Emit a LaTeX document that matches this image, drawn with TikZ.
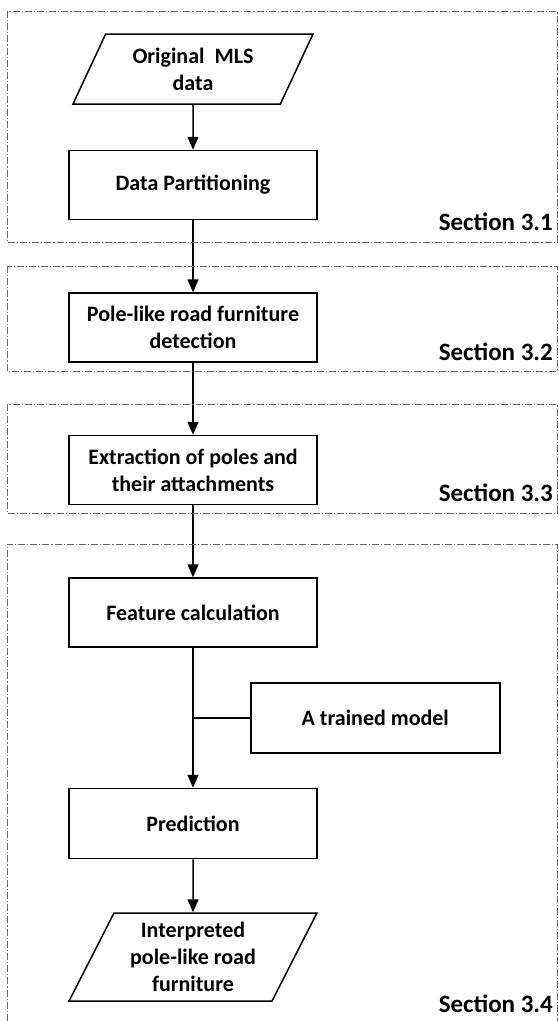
\documentclass[tikz,border=0pt]{standalone}
\usepackage{fontspec}
\setmainfont{Carlito}
\usetikzlibrary{positioning,arrows.meta,shapes.geometric,calc}

\begin{document}
\begin{tikzpicture}[
  x=1pt, y=-1pt,
  font=\bfseries\fontsize{22}{27}\selectfont,
  proc/.style={draw, line width=1.5pt, minimum width=248pt, minimum height=69pt, align=center, inner sep=4pt},
  io/.style={draw, line width=1.5pt, trapezium, trapezium left angle=63.4, trapezium right angle=116.6,
    trapezium stretches=true, minimum width=240pt, minimum height=70pt, align=center, inner sep=2pt},
  arrow/.style={-{Triangle[length=13pt, width=11pt]}, line width=1.5pt},
  link/.style={line width=1.5pt},
  section/.style={draw=black!60, line width=0.7pt, dash pattern=on 7pt off 2pt on 1.2pt off 2pt},
  seclabel/.style={font=\bfseries\fontsize{25}{30}\selectfont, anchor=east, inner sep=0pt}
]
\useasboundingbox (0,0) rectangle (558,1021);

% flow
\node[io] (orig) at (193,69) {Original\ \ MLS\\data};
\node[proc, below=45pt of orig] (part) {Data Partitioning};
\node[proc, below=72pt of part] (detect) {Pole-like road furniture\\detection};
\node[proc, below=72pt of detect] (extract) {Extraction of poles and\\their attachments};
\node[proc, below=72pt of extract] (feat) {Feature calculation};
\node[proc, below=140pt of feat, minimum height=70pt] (pred) {Prediction};
\node[io, below=53pt of pred, minimum width=248pt, minimum height=88pt] (result) {Interpreted\\pole-like road\\furniture};
\coordinate (join) at ($(feat.south)!0.5!(pred.north)$);
\node[proc, right=57pt of join, minimum width=249pt, minimum height=70pt] (model) {A trained model};

\draw[arrow] (orig) -- (part);
\draw[arrow] (part) -- (detect);
\draw[arrow] (detect) -- (extract);
\draw[arrow] (extract) -- (feat);
\draw[arrow] (feat) -- (pred);
\draw[arrow] (pred) -- (result);
\draw[link] (model.west) -- (join);

% sections
\draw[section] (7,11) rectangle (557,242);
\draw[section] (7,266) rectangle (557,371);
\draw[section] (7,404) rectangle (557,513);
\draw[section] (7,1021) |- (557,544) -- (557,1021);
\node[seclabel] (sec1) at (553,222) {Section 3.1};
\node[seclabel] (sec2) at (553,352) {Section 3.2};
\node[seclabel] (sec3) at (553,493) {Section 3.3};
\node[seclabel] (sec4) at (553,1004) {Section 3.4};
\end{tikzpicture}
\end{document}
